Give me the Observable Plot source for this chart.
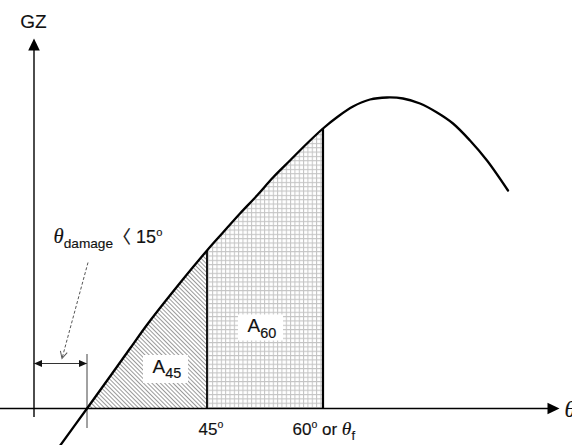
<!DOCTYPE html>
<html>
<head>
<meta charset="utf-8">
<script src="https://cdn.jsdelivr.net/npm/d3@7"></script>
<script src="https://cdn.jsdelivr.net/npm/@observablehq/plot@0.6"></script>
<style>
html, body { margin: 0; padding: 0; background: #fff; }
svg { display: block; }
</style>
</head>
<body>
<div id="chart"></div>
<script>
// GZ righting-lever curve (schematic units: x = heel-angle position, y = GZ)
const gzAngle = [24, 53, 76, 96, 114, 148, 173, 189, 206, 223, 239, 256, 273, 289, 304, 319, 336, 353, 369, 386, 403, 419, 436, 453, 474];
const gzValue = [-40, 0, 32, 60, 85, 128, 158, 176, 195, 213, 231, 248, 265, 280, 292, 302, 309, 311, 310, 305, 296, 285, 268, 248, 218];

// key angles on the schematic axis
const zeroAngle = 53;   // start of the areas (GZ = 0)
const angle45 = 173;    // 45°
const angle60 = 289;    // 60° or θf

// axis extents
const xAxisStart = -34, xAxisTip = 525.5;
const yAxisBottom = -9, yAxisTip = 370;

// damage-angle annotation
const damageBarY = 45;
const damageTickY = [-20, 54];
const damagePointer = [54, 146, 28, 50]; // x1, y1, x2, y2

// labels
const labelText = ["GZ", "~{θ}_{damage}〈 15^{o}", "45^{o}", "60^{o} or ~{θ}_{f}", "A_{45}", "A_{60}", "~{θ}"];
const labelX = [-0.5, 19.5, 164.5, 258.5, 118.5, 213.5, 530.5];
const labelY = [386.5, 171.5, -21, -21, 42, 82.5, -2];

const curve = gzAngle.map((x, i) => ({x, y: gzValue[i]}));
const valueAt = a => gzValue[gzAngle.indexOf(a)];
const area45 = curve.filter(d => d.x >= zeroAngle && d.x <= angle45);
const area60 = curve.filter(d => d.x >= angle45 && d.x <= angle60);

const head = (L, w) => ({draw(ctx) { ctx.moveTo(0, 0); ctx.lineTo(-w, L); ctx.lineTo(w, L); ctx.closePath(); }});
const chevron = (L, w) => ({draw(ctx) { ctx.moveTo(-w, L); ctx.lineTo(0, 0); ctx.lineTo(w, L); }});

const lab = i => ({i});
const textMark = (i, opts) => Plot.text([lab(i)], {x: d => labelX[d.i], y: d => labelY[d.i], text: d => labelText[d.i], fill: "#111", stroke: "#111", strokeWidth: 0.15, ...opts});
const boxMark = (i, y1off, y2off) => Plot.rect([lab(i)], {x1: d => labelX[d.i] - 9, x2: d => labelX[d.i] + 36, y1: d => labelY[d.i] + y1off, y2: d => labelY[d.i] + y2off, fill: "white"});

const svg = Plot.plot({
  width: 572,
  height: 445,
  margin: 0,
  x: {domain: [-33.5, 538.5], axis: null},
  y: {domain: [-37, 408], axis: null},
  style: {fontFamily: "'Liberation Sans', Arial, 'Noto Sans CJK KR', sans-serif", background: "white", overflow: "visible"},
  marks: [
    Plot.areaY(area45, {x: "x", y: "y", curve: "catmull-rom", fill: "url(#hatch)"}),
    Plot.areaY(area60, {x: "x", y: "y", curve: "catmull-rom", fill: "url(#grid)"}),
    boxMark(4, -17, 11),
    boxMark(5, -15, 11),
    Plot.ruleY([0], {x1: xAxisStart, x2: xAxisTip - 10, stroke: "black", strokeWidth: 1.4}),
    Plot.ruleX([0], {y1: yAxisBottom, y2: yAxisTip - 11, stroke: "black", strokeWidth: 1.4}),
    Plot.ruleX([angle45], {y1: 0, y2: valueAt(angle45), stroke: "black", strokeWidth: 1.8}),
    Plot.ruleX([angle60], {y1: 0, y2: valueAt(angle60), stroke: "black", strokeWidth: 2.2}),
    Plot.ruleX([zeroAngle], {y1: damageTickY[0], y2: damageTickY[1], stroke: "#444", strokeWidth: 1}),
    Plot.line(curve, {x: "x", y: "y", curve: "catmull-rom", stroke: "black", strokeWidth: 2.3}),
    Plot.ruleY([damageBarY], {x1: 0, x2: zeroAngle, stroke: "#333", strokeWidth: 1.1}),
    Plot.dot([{x: 0, y: damageBarY, rot: -90}, {x: zeroAngle, y: damageBarY, rot: 90}], {x: "x", y: "y", rotate: "rot", symbol: head(8, 3.5), fill: "#111", stroke: "none"}),
    Plot.link([damagePointer], {x1: d => d[0], y1: d => d[1], x2: d => d[2], y2: d => d[3], stroke: "#555", strokeWidth: 1, strokeDasharray: "3,2"}),
    Plot.dot([damagePointer], {x: d => d[2], y: d => d[3], rotate: 195, symbol: chevron(7, 3.5), fill: "none", stroke: "#555", strokeWidth: 1}),
    Plot.dot([{x: 0, y: yAxisTip, rot: 0}, {x: xAxisTip, y: 0, rot: 90}], {x: "x", y: "y", rotate: "rot", symbol: head(12, 5.8), fill: "black", stroke: "none"}),
    textMark(0, {fontSize: 19, textAnchor: "middle"}),
    textMark(1, {fontSize: 18, textAnchor: "start"}),
    textMark(2, {fontSize: 17, textAnchor: "start"}),
    textMark(3, {fontSize: 17, textAnchor: "start"}),
    textMark(4, {fontSize: 19, textAnchor: "start"}),
    textMark(5, {fontSize: 19, textAnchor: "start"}),
    textMark(6, {fontSize: 20, textAnchor: "start"})
  ]
});

svg.insertAdjacentHTML("afterbegin", `<defs>
<pattern id="hatch" patternUnits="userSpaceOnUse" width="3" height="3" patternTransform="rotate(-45)">
<rect width="3" height="3" fill="white"/>
<line x1="1.5" y1="0" x2="1.5" y2="3" stroke="#9a9a9a" stroke-width="1"/>
</pattern>
<pattern id="grid" patternUnits="userSpaceOnUse" width="4.33" height="4.33">
<rect width="4.33" height="4.33" fill="white"/>
<path d="M0.5 0V4.33M0 0.5H4.33" stroke="#c4c4c4" stroke-width="1" fill="none"/>
</pattern>
</defs>`);

document.getElementById("chart").appendChild(svg);

// rich-text labels: _{sub}, ^{sup}, ~{italic serif}
const NS = "http://www.w3.org/2000/svg";
svg.querySelectorAll("text").forEach(t => {
  const s = t.textContent;
  if (!/[_^~]\{/.test(s)) return;
  const base = parseFloat(getComputedStyle(t).fontSize) || 16;
  t.textContent = "";
  let shift = 0;
  for (const part of s.split(/([_^~]\{[^}]*\})/)) {
    if (!part) continue;
    const ts = document.createElementNS(NS, "tspan");
    let target = 0, content = part, size = base;
    if (part[1] === "{" && "_^~".includes(part[0])) {
      content = part.slice(2, -1);
      if (part[0] === "_") { size = base * 0.76; target = base * 0.3; }
      else if (part[0] === "^") { size = base * 0.62; target = -base * 0.38; }
      else { ts.setAttribute("font-family", "'Liberation Serif', 'DejaVu Serif', serif"); ts.setAttribute("font-style", "italic"); size = base * 1.15; }
    }
    ts.setAttribute("font-size", size);
    const dy = target - shift;
    if (dy) ts.setAttribute("dy", dy);
    shift = target;
    ts.textContent = content;
    t.appendChild(ts);
  }
});
</script>
</body>
</html>
